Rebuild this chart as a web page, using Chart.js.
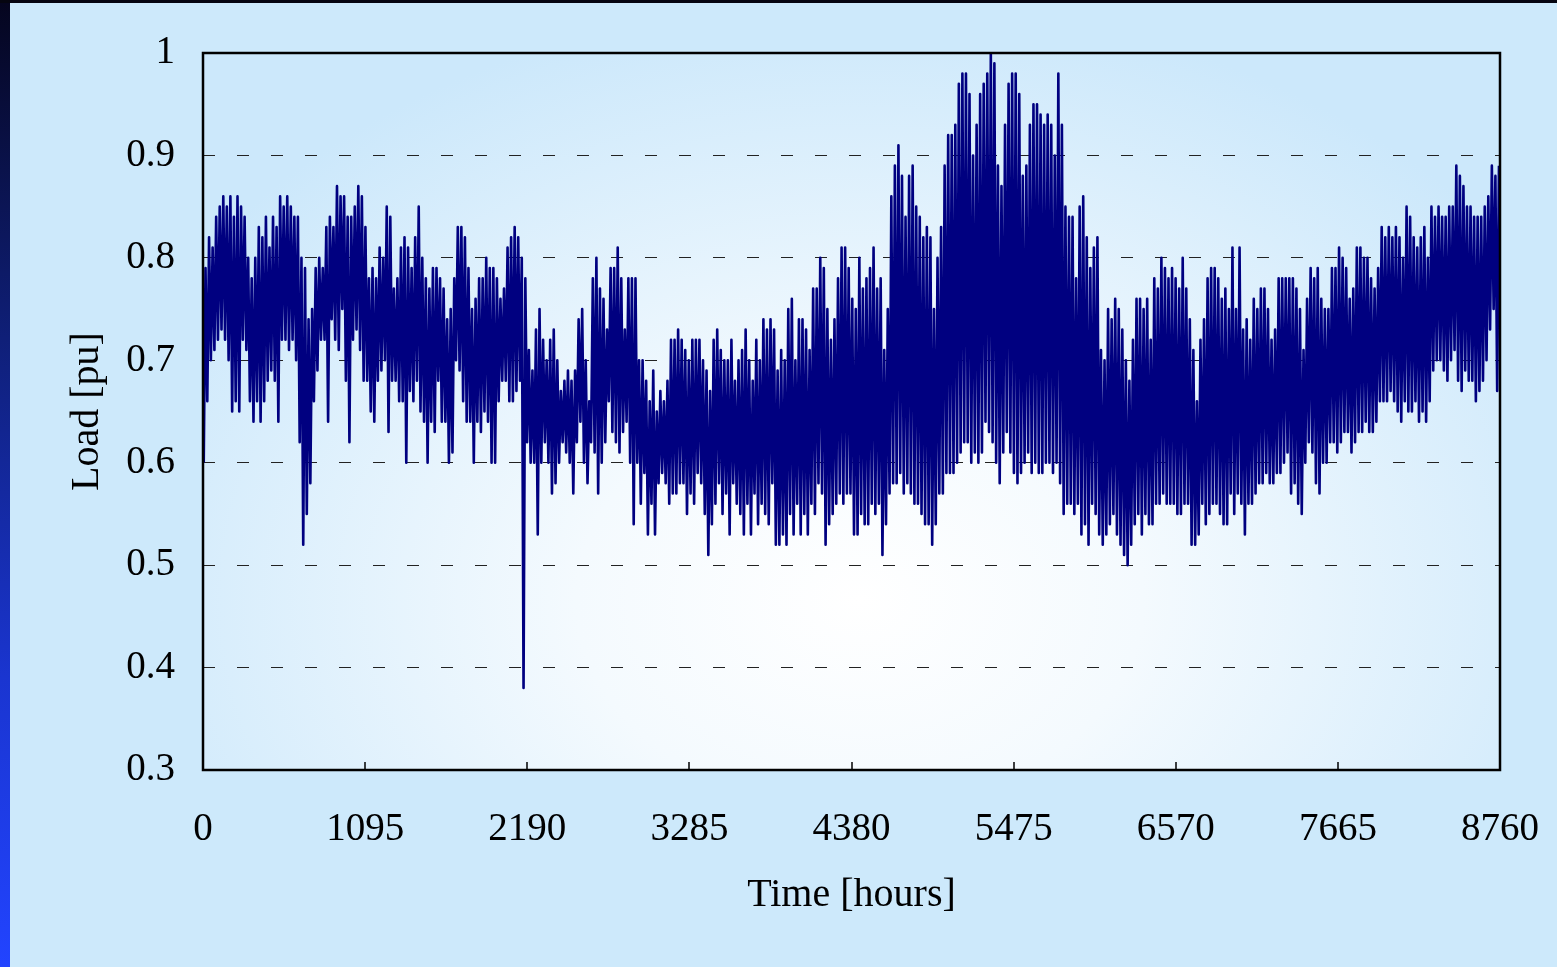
<!DOCTYPE html>
<html>
<head>
<meta charset="utf-8">
<script src="https://cdn.jsdelivr.net/npm/chart.js@4/dist/chart.umd.min.js"></script>
<style>
  html, body { margin: 0; padding: 0; }
  body { width: 1557px; height: 967px; position: relative; overflow: hidden; background: #cde9fb; }
  #leftStrip { position: absolute; left: 0; top: 0; width: 10px; height: 967px;
    background: linear-gradient(to bottom, #05051e 0%, #0f1f78 35%, #1a35d0 70%, #2244ff 100%); }
  #topStrip { position: absolute; left: 0; top: 0; width: 1557px; height: 3px; background: #050510; }
  #wrap { position: absolute; left: 0; top: 0; width: 1557px; height: 967px; }
</style>
</head>
<body>
<div id="leftStrip"></div>
<div id="topStrip"></div>
<div id="wrap"><canvas id="c" width="1557" height="967"></canvas></div>
<script>
// ---- Data (per day: daily trough and daily peak, pu) ----
const dailyPeak = [
  0.79,0.82,0.81,0.84,0.85,0.86,0.85,0.86,0.84,0.86,
  0.85,0.84,0.80,0.78,0.80,0.83,0.82,0.84,0.81,0.84,
  0.83,0.86,0.85,0.86,0.85,0.84,0.84,0.80,0.79,0.74,
  0.75,0.79,0.80,0.79,0.83,0.84,0.83,0.87,0.86,0.86,
  0.84,0.84,0.85,0.87,0.86,0.83,0.78,0.79,0.78,0.81,
  0.80,0.85,0.84,0.77,0.78,0.81,0.82,0.81,0.79,0.82,
  0.85,0.80,0.78,0.77,0.79,0.79,0.78,0.77,0.74,0.75,
  0.78,0.83,0.83,0.82,0.79,0.75,0.76,0.78,0.78,0.80,
  0.79,0.79,0.78,0.76,0.77,0.81,0.82,0.83,0.82,0.80,
  0.78,0.71,0.69,0.73,0.75,0.72,0.70,0.72,0.73,0.70,
  0.67,0.68,0.69,0.68,0.69,0.74,0.75,0.70,0.66,0.78,
  0.80,0.77,0.76,0.73,0.79,0.79,0.81,0.78,0.73,0.78,
  0.78,0.78,0.70,0.70,0.68,0.66,0.69,0.65,0.67,0.66,
  0.68,0.72,0.72,0.73,0.72,0.71,0.70,0.72,0.72,0.72,
  0.70,0.69,0.67,0.72,0.73,0.71,0.70,0.70,0.72,0.68,
  0.70,0.71,0.73,0.70,0.68,0.72,0.70,0.74,0.73,0.74,
  0.73,0.69,0.71,0.70,0.75,0.76,0.70,0.74,0.74,0.73,
  0.71,0.77,0.77,0.80,0.79,0.75,0.72,0.74,0.78,0.81,
  0.81,0.79,0.76,0.75,0.80,0.77,0.78,0.79,0.81,0.77,
  0.78,0.71,0.75,0.86,0.89,0.91,0.88,0.84,0.88,0.89,
  0.85,0.84,0.82,0.83,0.82,0.75,0.80,0.83,0.89,0.92,
  0.92,0.93,0.97,0.98,0.98,0.96,0.90,0.93,0.96,0.97,
  0.98,1.00,0.99,0.89,0.87,0.93,0.97,0.98,0.98,0.96,
  0.88,0.89,0.93,0.95,0.95,0.94,0.93,0.94,0.93,0.90,
  0.98,0.93,0.85,0.84,0.84,0.78,0.85,0.86,0.82,0.79,
  0.81,0.82,0.71,0.70,0.75,0.74,0.76,0.75,0.73,0.70,
  0.68,0.72,0.76,0.76,0.75,0.76,0.72,0.78,0.77,0.80,
  0.79,0.78,0.79,0.78,0.77,0.80,0.77,0.74,0.71,0.66,
  0.72,0.74,0.78,0.79,0.79,0.78,0.76,0.77,0.75,0.81,
  0.75,0.81,0.73,0.74,0.72,0.76,0.75,0.77,0.77,0.75,
  0.72,0.73,0.78,0.78,0.78,0.78,0.78,0.77,0.75,0.71,
  0.76,0.79,0.78,0.79,0.76,0.75,0.75,0.79,0.79,0.81,
  0.80,0.79,0.76,0.77,0.81,0.81,0.80,0.80,0.78,0.77,
  0.79,0.83,0.82,0.83,0.82,0.83,0.82,0.80,0.85,0.84,
  0.82,0.81,0.82,0.83,0.80,0.85,0.84,0.85,0.84,0.84,
  0.85,0.85,0.89,0.88,0.87,0.85,0.85,0.84,0.84,0.84,
  0.85,0.86,0.89,0.88,0.89
];
const dailyLow = [
  0.60,0.66,0.70,0.71,0.72,0.73,0.72,0.70,0.65,0.66,
  0.65,0.72,0.71,0.66,0.64,0.66,0.64,0.66,0.68,0.69,
  0.68,0.64,0.72,0.72,0.71,0.72,0.70,0.62,0.52,0.55,
  0.58,0.66,0.69,0.72,0.72,0.64,0.74,0.72,0.71,0.75,
  0.68,0.62,0.72,0.73,0.71,0.68,0.68,0.65,0.64,0.68,
  0.69,0.70,0.63,0.68,0.68,0.66,0.66,0.60,0.67,0.66,
  0.68,0.65,0.64,0.60,0.64,0.63,0.68,0.64,0.64,0.60,
  0.61,0.70,0.69,0.66,0.64,0.64,0.60,0.64,0.63,0.65,
  0.64,0.60,0.60,0.66,0.68,0.68,0.66,0.66,0.67,0.68,
  0.38,0.62,0.60,0.60,0.53,0.60,0.62,0.60,0.57,0.58,
  0.60,0.62,0.61,0.60,0.57,0.62,0.64,0.60,0.58,0.62,
  0.61,0.57,0.60,0.62,0.66,0.63,0.62,0.61,0.63,0.64,
  0.60,0.54,0.60,0.56,0.59,0.53,0.56,0.53,0.58,0.59,
  0.58,0.56,0.57,0.57,0.58,0.58,0.55,0.57,0.56,0.59,
  0.58,0.55,0.51,0.54,0.56,0.58,0.55,0.57,0.53,0.58,
  0.56,0.55,0.53,0.56,0.53,0.57,0.54,0.56,0.55,0.54,
  0.58,0.52,0.52,0.53,0.52,0.55,0.53,0.56,0.53,0.55,
  0.53,0.56,0.55,0.58,0.57,0.52,0.54,0.55,0.56,0.57,
  0.56,0.57,0.57,0.53,0.53,0.55,0.54,0.54,0.56,0.55,
  0.56,0.51,0.54,0.57,0.58,0.58,0.59,0.57,0.58,0.57,
  0.56,0.56,0.55,0.54,0.54,0.52,0.54,0.57,0.57,0.59,
  0.59,0.59,0.60,0.61,0.62,0.62,0.60,0.61,0.60,0.61,
  0.64,0.63,0.62,0.60,0.58,0.61,0.63,0.61,0.59,0.58,
  0.59,0.60,0.61,0.59,0.60,0.59,0.59,0.60,0.60,0.59,
  0.60,0.58,0.55,0.56,0.56,0.55,0.56,0.53,0.54,0.52,
  0.56,0.55,0.53,0.52,0.53,0.54,0.55,0.53,0.52,0.51,
  0.50,0.52,0.54,0.55,0.53,0.55,0.54,0.54,0.56,0.56,
  0.57,0.56,0.56,0.56,0.55,0.55,0.56,0.56,0.52,0.52,
  0.53,0.56,0.54,0.55,0.56,0.56,0.55,0.54,0.54,0.57,
  0.55,0.57,0.56,0.53,0.56,0.56,0.57,0.58,0.58,0.59,
  0.58,0.58,0.59,0.59,0.60,0.61,0.57,0.58,0.56,0.55,
  0.60,0.62,0.61,0.58,0.57,0.60,0.60,0.62,0.62,0.61,
  0.62,0.63,0.63,0.61,0.62,0.63,0.63,0.64,0.63,0.63,
  0.64,0.66,0.66,0.66,0.67,0.66,0.65,0.64,0.66,0.65,
  0.65,0.66,0.64,0.65,0.64,0.66,0.69,0.70,0.70,0.69,
  0.68,0.70,0.71,0.68,0.67,0.69,0.68,0.68,0.66,0.67,
  0.68,0.70,0.73,0.75,0.67
];
// hour of day at which the trough and the peak occur
const troughHour = 5;
const peakHour = 17;
// axis ticks
const xTickValues = [0, 1095, 2190, 3285, 4380, 5475, 6570, 7665, 8760];
const yTickValues = [0.3, 0.4, 0.5, 0.6, 0.7, 0.8, 0.9, 1.0];

// Build series (hour, load)
const points = [];
for (let d = 0; d < dailyPeak.length; d++) {
  points.push({ x: d * 24 + troughHour, y: dailyLow[d] });
  points.push({ x: d * 24 + peakHour, y: dailyPeak[d] });
}

const FONT = "'Liberation Serif', 'Times New Roman', serif";

const plotBg = {
  id: 'plotBg',
  beforeDraw(chart) {
    const { ctx, chartArea: a } = chart;
    ctx.save();
    const cx = 860, cy = 600;
    ctx.beginPath();
    ctx.rect(a.left, a.top, a.right - a.left, a.bottom - a.top);
    ctx.clip();
    ctx.translate(cx, cy);
    ctx.scale(1.35, 1);
    const g = ctx.createRadialGradient(0, 0, 0, 0, 0, 600);
    g.addColorStop(0, '#ffffff');
    g.addColorStop(0.35, '#f4fafe');
    g.addColorStop(1, '#cce8fb');
    ctx.fillStyle = g;
    ctx.fillRect(-1000, -1000, 2000, 2000);
    ctx.restore();
  },
  afterDatasetsDraw(chart) {
    const { ctx, chartArea: a, scales } = chart;
    ctx.save();
    ctx.strokeStyle = '#000';
    ctx.lineWidth = 1.5;
    // x tick marks (inside the plot)
    xTickValues.forEach(v => {
      const px = Math.round(scales.x.getPixelForValue(v));
      ctx.beginPath();
      ctx.moveTo(px, a.bottom);
      ctx.lineTo(px, a.bottom - 8);
      ctx.stroke();
    });
    // frame
    ctx.lineWidth = 2.5;
    ctx.strokeRect(a.left, a.top, a.right - a.left, a.bottom - a.top);
    ctx.restore();
  }
};

new Chart(document.getElementById('c'), {
  type: 'line',
  data: {
    datasets: [{
      data: points,
      borderColor: '#000080',
      borderWidth: 2.6,
      borderJoinStyle: 'round',
      pointRadius: 0,
      tension: 0,
      fill: false
    }]
  },
  options: {
    responsive: false,
    animation: false,
    devicePixelRatio: 1,
    layout: { padding: { left: 0, top: 53, right: 57, bottom: 0 } },
    plugins: { legend: { display: false }, tooltip: { enabled: false } },
    scales: {
      x: {
        type: 'linear',
        min: 0, max: 8760,
        afterBuildTicks(scale) { scale.ticks = xTickValues.map(v => ({ value: v })); },
        afterFit(scale) { scale.height = 967 - 770; scale.paddingLeft = 0; scale.paddingRight = 0; },
        grid: { display: false, drawTicks: false },
        border: { display: false },
        ticks: {
          padding: 36,
          maxRotation: 0,
          color: '#000',
          font: { family: FONT, size: 39 },
          callback: v => String(v)
        },
        title: {
          display: true,
          text: 'Time [hours]',
          color: '#000',
          font: { family: FONT, size: 40 },
          padding: { top: 0, bottom: 48 }
        }
      },
      y: {
        min: 0.3, max: 1.0,
        afterBuildTicks(scale) { scale.ticks = yTickValues.map(v => ({ value: v })); },
        afterFit(scale) { scale.width = 203; scale.paddingTop = 0; scale.paddingBottom = 0; },
        grid: {
          drawTicks: false,
          color: ctx => (ctx.tick && (Math.abs(ctx.tick.value - 0.3) < 1e-6 || Math.abs(ctx.tick.value - 1) < 1e-6)) ? 'rgba(0,0,0,0)' : '#222',
          lineWidth: 1
        },
        border: { display: false, dash: [12, 22] },
        ticks: {
          padding: 28,
          color: '#000',
          font: { family: FONT, size: 39 },
          callback: v => String(Number(v.toFixed(1)))
        },
        title: {
          display: true,
          text: 'Load [pu]',
          color: '#000',
          font: { family: FONT, size: 40 },
          padding: { top: 63, bottom: 0 }
        }
      }
    }
  },
  plugins: [plotBg]
});
</script>
</body>
</html>
